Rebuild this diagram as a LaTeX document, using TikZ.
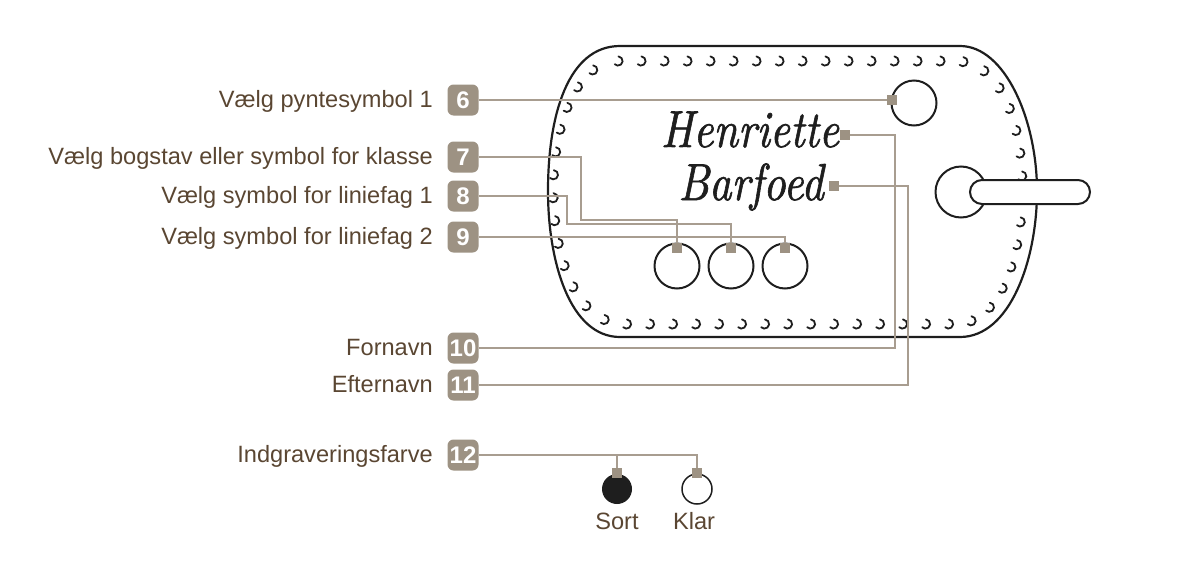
\documentclass[tikz,border=0pt]{standalone}
\usepackage{fontspec}
\newfontfamily\sansf{Liberation Sans}
\newfontfamily\namef{lmroman10-italic}[Extension=.otf, FakeBold=1.3]
\usepackage{graphicx}
\usetikzlibrary{decorations.markings}
\definecolor{txt}{HTML}{5A4632}
\definecolor{badge}{HTML}{9D9283}
\definecolor{connc}{HTML}{A89D90}
\definecolor{ink}{HTML}{1E1E1E}
\begin{document}
\begin{tikzpicture}[x=1pt,y=-1pt,
  badgest/.style={fill=badge, rounded corners=6pt, minimum size=31pt, inner sep=0pt, text=white, font=\sansf\bfseries\fontsize{24}{24}\selectfont},
  lbl/.style={anchor=base east, text=txt, font=\sansf\fontsize{23.6}{24}\selectfont, inner sep=0pt},
  optlbl/.style={anchor=base, text=txt, font=\sansf\fontsize{23.6}{24}\selectfont, inner sep=0pt},
  mk/.style={fill=badge, minimum size=9.5pt, inner sep=0pt},
  connline/.style={draw=connc, line width=1.4pt},
  outline/.style={draw=ink, line width=2.2pt},
  ring/.style={draw=ink, line width=2pt, circle, inner sep=0pt},
  dotst/.style={draw=ink, line width=1.8pt, line cap=round},
  namest/.style={anchor=base, text=ink, inner sep=0pt, font=\namef\fontsize{52}{52}\selectfont}
]
\useasboundingbox (0,0) rectangle (1200,584);

% tag outline
\draw[outline] (620,46) -- (960,46) .. controls (1005,46) and (1037,120) .. (1037,191)
  .. controls (1037,260) and (1010,337) .. (960,337) -- (620,337)
  .. controls (570,337) and (548,262) .. (548,191)
  .. controls (548,115) and (568,46) .. (620,46) -- cycle;

% stitching dots
\path[decorate, decoration={markings,
  mark=between positions 0 and 0.99 step 23pt with {\pgftransformresetnontranslations
   \draw[dotst] (-85:4.6) arc (-85:135:4.6);}}]
  (618,61) -- (955,61) .. controls (1000,61) and (1022,120) .. (1022,190)
  .. controls (1022,255) and (1000,324) .. (955,324) -- (625,324)
  .. controls (575,324) and (553,255) .. (553,190)
  .. controls (553,120) and (578,61) .. (618,61);

% symbol circles
\node[ring, minimum size=45pt] (s1) at (914,103) {};
\node[ring, minimum size=45pt] (c1) at (677,266) {};
\node[ring, minimum size=45pt] (c2) at (731,266) {};
\node[ring, minimum size=45pt] (c3) at (785,266) {};

% hanger
\node[ring, minimum size=51pt] (h) at (961,192) {};
\node[draw=ink, line width=2pt, fill=white, rounded corners=12pt, minimum width=120pt, minimum height=24pt, inner sep=0pt] (pill) at (1030,192) {};

% names
\node[namest] (fn) at (750,147) {\scalebox{0.84}[1]{Henriette}};
\node[namest] (ln) at (751,200) {\scalebox{0.84}[1]{Barfoed}};

% engraving colour options
\node[circle, fill=ink, minimum size=30pt, inner sep=0pt] (sort) at (617,489) {};
\node[ring, line width=1.5pt, minimum size=30pt] (klar) at (697,489) {};
\node[optlbl] (tsort) at (617,529) {Sort};
\node[optlbl] (tklar) at (694,529) {Klar};

% badges
\node[badgest] (b6) at (463,100) {6};
\node[badgest] (b7) at (463,157) {7};
\node[badgest] (b8) at (463,196) {8};
\node[badgest] (b9) at (463,237) {9};
\node[badgest] (b10) at (463,348) {10};
\node[badgest] (b11) at (463,385) {11};
\node[badgest] (b12) at (463,455) {12};

% labels
\node[lbl] (t6) at (433,107) {Vælg pyntesymbol 1};
\node[lbl] (t7) at (433,164) {Vælg bogstav eller symbol for klasse};
\node[lbl] (t8) at (433,203) {Vælg symbol for liniefag 1};
\node[lbl] (t9) at (433,244) {Vælg symbol for liniefag 2};
\node[lbl] (t10) at (433,355) {Fornavn};
\node[lbl] (t11) at (433,392) {Efternavn};
\node[lbl] (t12) at (433,462) {Indgraveringsfarve};

% marker positions
\coordinate (p6) at (892,100);
\coordinate (p7) at (677,248);
\coordinate (p8) at (731,248);
\coordinate (p9) at (785,248);
\coordinate (p10) at (845,135);
\coordinate (p11) at (834,186);
\coordinate (ps) at (617,473);
\coordinate (pk) at (697,473);
\coordinate (c7) at (581,220);
\coordinate (c8) at (567,224);
\coordinate (c10) at (895,135);
\coordinate (c11) at (908,186);
\coordinate (j12) at (617,455);

% connectors
\draw[connline] (b6.east) -- (p6);
\draw[connline] (b7.east) -| (c7) -| (p7);
\draw[connline] (b8.east) -| (c8) -| (p8);
\draw[connline] (b9.east) -| (p9);
\draw[connline] (b10.east) -| (c10) -- (p10);
\draw[connline] (b11.east) -| (c11) -- (p11);
\draw[connline] (b12.east) -| (pk);
\draw[connline] (j12) -- (ps);

% markers
\foreach \p/\n in {p6/m6,p7/m7,p8/m8,p9/m9,p10/m10,p11/m11,ps/ms,pk/mk}
  \node[mk] (\n) at (\p) {};
\end{tikzpicture}
\end{document}
